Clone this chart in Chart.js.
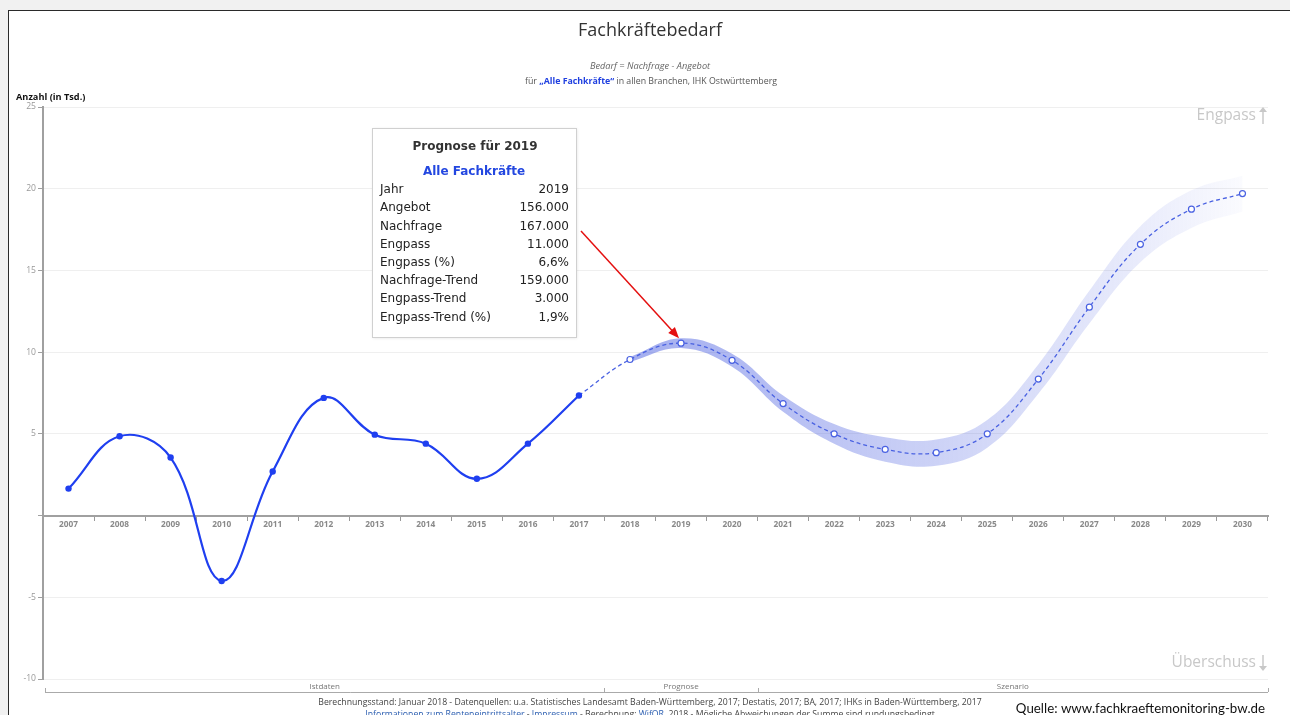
<!DOCTYPE html>
<html>
<head>
<meta charset="utf-8">
<script src="https://cdn.jsdelivr.net/npm/chart.js@4.4.1/dist/chart.umd.min.js"></script>
<style>
  html, body { margin: 0; padding: 0; background: #f1f1f1; overflow: hidden; }
  #frame { position: absolute; left: 8px; top: 10px; width: 1300px; height: 720px; border: 1px solid #2a2a2a; background: #fff; }
  #wrap { position: absolute; left: 0; top: 0; width: 1290px; height: 715px; }
</style>
</head>
<body>
<div id="frame"></div>
<div id="wrap"><canvas id="chart"></canvas></div>
<script>
const years = ['2007', '2008', '2009', '2010', '2011', '2012', '2013', '2014', '2015', '2016', '2017', '2018',
    '2019', '2020', '2021', '2022', '2023', '2024', '2025', '2026', '2027', '2028', '2029', '2030'];

// Istdaten 2007-2017
const istdaten = [1.65, 4.85, 3.55, -4.0, 2.7, 7.2, 4.95, 4.4, 2.25, 4.4, 7.35,
    null, null, null, null, null, null, null, null, null, null, null, null, null];

// Prognose / Szenario 2017-2030
const prognose = [null, null, null, null, null, null, null, null, null, null, 7.35,
    9.55, 10.55, 9.5, 6.85, 5.0, 4.05, 3.85, 5.0, 8.35, 12.75, 16.6, 18.75, 19.7];

// Unsicherheitsband
const bandHigh = [null, null, null, null, null, null, null, null, null, null, null,
    9.7, 10.85, 9.9, 7.35, 5.6, 4.8, 4.65, 5.85, 9.25, 13.75, 17.7, 19.9, 20.8];
const bandLow = [null, null, null, null, null, null, null, null, null, null, null,
    9.4, 10.25, 9.1, 6.35, 4.4, 3.3, 3.05, 4.15, 7.45, 11.75, 15.5, 17.6, 18.6];

const yTicks = [25, 20, 15, 10, 5, 0, -5, -10];

const bands = [
    {label: 'Istdaten', from: '2007', to: '2017'},
    {label: 'Prognose', from: '2018', to: '2020'},
    {label: 'Szenario', from: '2021', to: '2030'}
];

const tooltipYear = '2019';
const tooltipLabels = ['Jahr', 'Angebot', 'Nachfrage', 'Engpass', 'Engpass (%)', 'Nachfrage-Trend', 'Engpass-Trend', 'Engpass-Trend (%)'];
const tooltipValues = ['2019', '156.000', '167.000', '11.000', '6,6%', '159.000', '3.000', '1,9%'];

const blue = '#1f3ff0';
const blueDash = '#4a62e2';

let bandGradient, gradWidth;
function getBandGradient(ctx, chartArea) {
    const w = chartArea.right - chartArea.left;
    if (!bandGradient || gradWidth !== w) {
        gradWidth = w;
        bandGradient = ctx.createLinearGradient(chartArea.left, 0, chartArea.right, 0);
        bandGradient.addColorStop(0.45, 'rgba(80, 100, 225, 0.55)');
        bandGradient.addColorStop(0.62, 'rgba(80, 100, 225, 0.40)');
        bandGradient.addColorStop(0.80, 'rgba(80, 100, 225, 0.22)');
        bandGradient.addColorStop(0.90, 'rgba(80, 100, 225, 0.12)');
        bandGradient.addColorStop(0.975, 'rgba(80, 100, 225, 0.03)');
        bandGradient.addColorStop(1.0, 'rgba(80, 100, 225, 0.0)');
    }
    return bandGradient;
}

const deko = {
    id: 'deko',
    afterDraw(chart) {
        const c = chart.ctx;
        const xs = chart.scales.x, ys = chart.scales.y;
        const step = xs.getPixelForValue(1) - xs.getPixelForValue(0);
        c.save();
        c.textBaseline = 'middle';

        // Titel
        c.textAlign = 'center';
        c.fillStyle = '#333';
        c.font = '18px "Open Sans"';
        c.fillText('Fachkräftebedarf', 650, 31);

        c.fillStyle = '#666';
        c.font = 'italic 9.2px "Open Sans"';
        c.fillText('Bedarf = Nachfrage - Angebot', 650, 66);

        // Zeile mit blauem Teil
        const parts = [
            ['für ', '#555', '8.8px "Open Sans"'],
            ['„Alle Fachkräfte“', '#2040e0', 'bold 8.8px "Open Sans"'],
            [' in allen Branchen, IHK Ostwürttemberg', '#555', '8.8px "Open Sans"']
        ];
        let total = 0;
        parts.forEach(p => { c.font = p[2]; total += c.measureText(p[0]).width; });
        let px = 651 - total / 2;
        c.textAlign = 'left';
        parts.forEach(p => {
            c.font = p[2]; c.fillStyle = p[1];
            c.fillText(p[0], px, 81);
            px += c.measureText(p[0]).width;
        });

        // Achsentitel
        c.fillStyle = '#111';
        c.font = 'bold 9.2px "Open Sans"';
        c.fillText('Anzahl (in Tsd.)', 16, 97);

        // Engpass / Überschuss
        c.textAlign = 'right';
        c.fillStyle = '#c8c8c8';
        c.font = '15.5px "Open Sans"';
        c.fillText('Engpass', 1256, 116);
        c.fillText('Überschuss', 1256, 663);
        c.strokeStyle = '#c8c8c8';
        c.lineWidth = 1.5;
        c.beginPath(); c.moveTo(1263, 124); c.lineTo(1263, 109); c.stroke();
        c.beginPath(); c.moveTo(1259, 112); c.lineTo(1263, 107); c.lineTo(1267, 112); c.fill();
        c.beginPath(); c.moveTo(1263, 655); c.lineTo(1263, 669); c.stroke();
        c.beginPath(); c.moveTo(1259, 666); c.lineTo(1263, 671); c.lineTo(1267, 666); c.fill();

        // Bereiche unten
        c.strokeStyle = '#aaa';
        c.lineWidth = 1;
        c.beginPath();
        c.moveTo(45, 692.5); c.lineTo(chart.chartArea.right, 692.5);
        c.stroke();
        c.textAlign = 'center';
        c.fillStyle = '#777';
        c.font = '8px "Open Sans"';
        bands.forEach((b, i) => {
            const x0 = i === 0 ? 45 : xs.getPixelForValue(years.indexOf(b.from)) - step / 2;
            const x1 = i === bands.length - 1 ? chart.chartArea.right : xs.getPixelForValue(years.indexOf(b.to)) + step / 2;
            c.fillText(b.label, (x0 + x1) / 2, 687);
            [x0, x1].forEach(x => {
                c.beginPath(); c.moveTo(Math.round(x) + 0.5, 692); c.lineTo(Math.round(x) + 0.5, 688); c.stroke();
            });
        });

        // Fusszeile
        c.fillStyle = '#444';
        c.font = '8.7px "Open Sans"';
        c.fillText('Berechnungsstand: Januar 2018 - Datenquellen: u.a. Statistisches Landesamt Baden-Württemberg, 2017; Destatis, 2017; BA, 2017; IHKs in Baden-Württemberg, 2017', 650, 703);
        const foot = [
            ['Informationen zum Renteneintrittsalter', '#2a5db0'],
            [' - ', '#444'],
            ['Impressum', '#2a5db0'],
            [' - Berechnung: ', '#444'],
            ['WifOR', '#2a5db0'],
            [', 2018 - Mögliche Abweichungen der Summe sind rundungsbedingt', '#444']
        ];
        total = 0;
        foot.forEach(p => { total += c.measureText(p[0]).width; });
        px = 650 - total / 2;
        c.textAlign = 'left';
        foot.forEach(p => {
            c.fillStyle = p[1];
            c.fillText(p[0], px, 715);
            px += c.measureText(p[0]).width;
        });

        // Quelle
        c.fillStyle = '#fff';
        c.fillRect(1008, 700, 282, 15);
        c.fillStyle = '#111';
        c.font = '13.3px Lato';
        c.textAlign = 'right';
        c.fillText('Quelle: www.fachkraeftemonitoring-bw.de', 1265, 709);

        // Tooltip-Box
        const bx = 372, by = 128, bw = 204, bh = 209;
        c.shadowColor = 'rgba(0,0,0,0.12)';
        c.shadowBlur = 3;
        c.shadowOffsetX = 1;
        c.shadowOffsetY = 1;
        c.fillStyle = '#fff';
        c.fillRect(bx, by, bw, bh);
        c.shadowColor = 'transparent';
        c.strokeStyle = '#d0d0d0';
        c.strokeRect(bx + 0.5, by + 0.5, bw, bh);
        c.textAlign = 'center';
        c.fillStyle = '#333';
        c.font = 'bold 12px "DejaVu Sans"';
        c.fillText('Prognose für ' + tooltipYear, bx + bw / 2 + 1, 147);
        c.fillStyle = '#2347e0';
        c.fillText('Alle Fachkräfte', bx + bw / 2, 172);
        c.font = '12px "DejaVu Sans"';
        c.fillStyle = '#222';
        tooltipLabels.forEach((lab, i) => {
            const y = 190 + i * 18.2;
            c.textAlign = 'left';
            c.fillText(lab, 380, y);
            c.textAlign = 'right';
            c.fillText(tooltipValues[i], 569, y);
        });

        // roter Pfeil zum Jahr 2019
        const idx = years.indexOf(tooltipYear);
        const ex = xs.getPixelForValue(idx) - 2;
        const ey = ys.getPixelForValue(prognose[idx]) - 5;
        const sx = 581, sy = 231;
        const ang = Math.atan2(ey - sy, ex - sx);
        c.strokeStyle = '#e41010';
        c.fillStyle = '#e41010';
        c.lineWidth = 1.5;
        c.beginPath(); c.moveTo(sx, sy);
        c.lineTo(ex - 8 * Math.cos(ang), ey - 8 * Math.sin(ang));
        c.stroke();
        c.beginPath();
        c.moveTo(ex, ey);
        c.lineTo(ex - 11 * Math.cos(ang) + 4.5 * Math.sin(ang), ey - 11 * Math.sin(ang) - 4.5 * Math.cos(ang));
        c.lineTo(ex - 11 * Math.cos(ang) - 4.5 * Math.sin(ang), ey - 11 * Math.sin(ang) + 4.5 * Math.cos(ang));
        c.closePath();
        c.fill();
        c.restore();
    }
};

const ctx = document.getElementById('chart').getContext('2d');

const myChart = new Chart(ctx, {
    type: 'line',
    data: {
        labels: years,
        datasets: [
            {
                label: 'Istdaten',
                data: istdaten,
                borderColor: blue,
                backgroundColor: blue,
                borderWidth: 2.2,
                pointRadius: 3.2,
                pointBackgroundColor: blue,
                pointBorderWidth: 0,
                tension: 0.4,
                fill: false
            },
            {
                label: 'Prognose',
                data: prognose,
                borderColor: blueDash,
                borderWidth: 1.3,
                borderDash: [4, 3],
                pointRadius: ctx => ctx.dataIndex <= 10 ? 0 : 3,
                pointBackgroundColor: '#fff',
                pointBorderColor: blueDash,
                pointBorderWidth: 1.2,
                tension: 0.4,
                fill: false
            },
            {
                label: 'Band oben',
                data: bandHigh,
                borderWidth: 0,
                pointRadius: 0,
                tension: 0.4,
                fill: false
            },
            {
                label: 'Band unten',
                data: bandLow,
                borderWidth: 0,
                pointRadius: 0,
                tension: 0.4,
                fill: '-1',
                backgroundColor: function(context) {
                    const chart = context.chart;
                    const {ctx, chartArea} = chart;
                    if (!chartArea) {
                        return null;
                    }
                    return getBandGradient(ctx, chartArea);
                }
            }
        ]
    },
    options: {
        responsive: true,
        maintainAspectRatio: false,
        animation: false,
        layout: {
            padding: {left: 0, right: 22, top: 107, bottom: 36}
        },
        plugins: {
            legend: {display: false},
            tooltip: {enabled: false},
            filler: {drawTime: 'beforeDatasetsDraw'}
        },
        scales: {
            x: {
                position: {y: 0},
                offset: true,
                afterFit: s => { s.height = 0; },
                grid: {
                    drawOnChartArea: false,
                    offset: true,
                    tickLength: 4,
                    tickColor: '#999',
                    tickWidth: 1
                },
                border: {color: '#a0a0a0', width: 2},
                ticks: {
                    color: '#8a8a8a',
                    font: {family: '"Open Sans"', size: 8.3, weight: 'bold'},
                    padding: 0,
                    autoSkip: false,
                    maxRotation: 0
                }
            },
            y: {
                min: -10,
                max: 25,
                afterFit: s => { s.width = 43; },
                afterBuildTicks: s => { s.ticks = yTicks.map(v => ({value: v})); },
                grid: {
                    color: '#efefef',
                    tickColor: '#a0a0a0',
                    tickLength: 5
                },
                border: {color: '#a0a0a0', width: 2},
                ticks: {
                    color: '#999',
                    font: {family: '"Open Sans"', size: 8.6},
                    padding: 2,
                    callback: v => v === 0 ? '' : v
                }
            }
        }
    },
    plugins: [deko]
});
</script>
</body>
</html>
